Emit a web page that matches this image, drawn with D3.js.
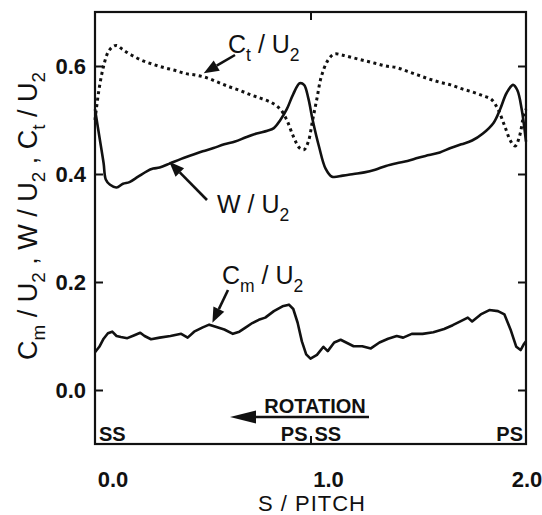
<!DOCTYPE html>
<html>
<head>
<meta charset="utf-8">
<script src="https://cdn.jsdelivr.net/npm/d3@7"></script>
<style>
  body { margin: 0; background: #fff; }
  text { font-family: "Liberation Sans", Arial, sans-serif; fill: #111; }
</style>
</head>
<body>
<div class="canvas"></div>
<script>
// S / PITCH positions and values
const wData = [
  [0.00, 0.52], [0.02, 0.47], [0.04, 0.42], [0.05, 0.39], [0.07, 0.38], [0.10, 0.375],
  [0.13, 0.382], [0.16, 0.385], [0.20, 0.395], [0.24, 0.405], [0.27, 0.41], [0.30, 0.412],
  [0.35, 0.42], [0.40, 0.428], [0.45, 0.435], [0.50, 0.442], [0.55, 0.448], [0.60, 0.455],
  [0.65, 0.46], [0.70, 0.468], [0.75, 0.475], [0.80, 0.48], [0.83, 0.485], [0.86, 0.50],
  [0.89, 0.52], [0.92, 0.548], [0.95, 0.568], [0.97, 0.565], [0.99, 0.54], [1.01, 0.50],
  [1.04, 0.45], [1.07, 0.41], [1.10, 0.395], [1.15, 0.397], [1.20, 0.40], [1.25, 0.403],
  [1.30, 0.408], [1.35, 0.415], [1.40, 0.42], [1.45, 0.424], [1.50, 0.43], [1.55, 0.435],
  [1.60, 0.44], [1.65, 0.448], [1.70, 0.455], [1.75, 0.462], [1.80, 0.475], [1.85, 0.495],
  [1.88, 0.52], [1.91, 0.55], [1.94, 0.565], [1.96, 0.555], [1.98, 0.52], [2.00, 0.46]
];

const ctData = [
  [0.00, 0.50], [0.02, 0.56], [0.04, 0.60], [0.06, 0.625], [0.08, 0.635], [0.10, 0.638],
  [0.13, 0.63], [0.17, 0.62], [0.22, 0.61], [0.27, 0.603], [0.32, 0.597], [0.37, 0.592],
  [0.42, 0.586], [0.47, 0.583], [0.52, 0.578], [0.57, 0.57], [0.62, 0.562], [0.67, 0.555],
  [0.72, 0.547], [0.77, 0.54], [0.82, 0.532], [0.86, 0.52], [0.89, 0.50], [0.92, 0.47],
  [0.95, 0.448], [0.97, 0.445], [0.99, 0.46], [1.01, 0.50], [1.03, 0.54], [1.05, 0.58],
  [1.08, 0.61], [1.11, 0.622], [1.15, 0.62], [1.20, 0.615], [1.25, 0.61], [1.30, 0.605],
  [1.35, 0.60], [1.40, 0.597], [1.45, 0.59], [1.50, 0.583], [1.55, 0.576], [1.60, 0.57],
  [1.65, 0.565], [1.70, 0.558], [1.75, 0.552], [1.80, 0.545], [1.84, 0.538], [1.87, 0.52],
  [1.90, 0.49], [1.93, 0.46], [1.95, 0.452], [1.97, 0.47], [1.99, 0.51], [2.00, 0.52]
];

const cmData = [
  [0.00, 0.07], [0.02, 0.08], [0.04, 0.095], [0.06, 0.105], [0.08, 0.108], [0.10, 0.10],
  [0.12, 0.098], [0.15, 0.096], [0.18, 0.101], [0.21, 0.106], [0.23, 0.10], [0.26, 0.094],
  [0.30, 0.097], [0.35, 0.10], [0.40, 0.104], [0.43, 0.097], [0.46, 0.108], [0.50, 0.116],
  [0.53, 0.121], [0.56, 0.117], [0.60, 0.112], [0.64, 0.104], [0.67, 0.108], [0.70, 0.116],
  [0.73, 0.124], [0.76, 0.13], [0.79, 0.134], [0.83, 0.146], [0.87, 0.155], [0.90, 0.158],
  [0.92, 0.150], [0.94, 0.125], [0.96, 0.09], [0.98, 0.066], [1.00, 0.058], [1.03, 0.065],
  [1.06, 0.08], [1.08, 0.072], [1.11, 0.088], [1.14, 0.093], [1.17, 0.087], [1.20, 0.081],
  [1.24, 0.081], [1.28, 0.077], [1.32, 0.088], [1.36, 0.095], [1.40, 0.1], [1.43, 0.097],
  [1.47, 0.104], [1.52, 0.104], [1.57, 0.107], [1.62, 0.113], [1.66, 0.12], [1.70, 0.128],
  [1.73, 0.134], [1.75, 0.127], [1.79, 0.14], [1.83, 0.148], [1.87, 0.146], [1.90, 0.14],
  [1.93, 0.11], [1.955, 0.08], [1.975, 0.074], [1.99, 0.085], [2.00, 0.09]
];

const yTicks = [0.0, 0.2, 0.4, 0.6];
const xTicks = [0.0, 1.0, 2.0];
const sideLabels = [[0.0, "SS", "start"], [1.0, "PS", "end"], [1.0, "SS", "start"], [2.0, "PS", "end"]];

const width = 542, height = 515;
const frame = { left: 95, right: 526, top: 12, bottom: 444 };

const svg = d3.select('.canvas')
    .append('svg')
    .attr('width', width)
    .attr('height', height);

const x = d3.scaleLinear().domain([0, 2]).range([frame.left, frame.right]);
const y = d3.scaleLinear().domain([-0.1, 0.7]).range([frame.bottom, frame.top]);

const line = d3.line()
    .x(d => x(d[0]))
    .y(d => y(d[1]))
    .curve(d3.curveCatmullRom.alpha(0.5));

// curves
svg.append('path')
    .attr('d', line(ctData))
    .attr('fill', 'none')
    .attr('stroke', '#111')
    .attr('stroke-width', 3)
    .attr('stroke-dasharray', '3,3.5');

svg.append('path')
    .attr('d', line(wData))
    .attr('fill', 'none')
    .attr('stroke', '#111')
    .attr('stroke-width', 2.6);

svg.append('path')
    .attr('d', d3.line().x(d => x(d[0])).y(d => y(d[1]))(cmData))
    .attr('fill', 'none')
    .attr('stroke', '#111')
    .attr('stroke-width', 2.6)
    .attr('stroke-linejoin', 'round');

// frame
svg.append('rect')
    .attr('x', frame.left).attr('y', frame.top)
    .attr('width', frame.right - frame.left)
    .attr('height', frame.bottom - frame.top)
    .attr('fill', 'none')
    .attr('stroke', '#111')
    .attr('stroke-width', 2.2);

// axes, ticks pointing inward
const tickLen = 8;
svg.append('g')
    .attr('transform', `translate(${frame.left},0)`)
    .call(d3.axisRight(y).tickValues(yTicks).tickSize(tickLen).tickFormat(''))
    .call(g => g.select('.domain').remove());
svg.append('g')
    .attr('transform', `translate(${frame.right},0)`)
    .call(d3.axisLeft(y).tickValues(yTicks).tickSize(tickLen).tickFormat(''))
    .call(g => g.select('.domain').remove());
svg.append('g')
    .attr('transform', `translate(0,${frame.top})`)
    .call(d3.axisBottom(x).tickValues([1.0]).tickSize(tickLen).tickFormat(''))
    .call(g => g.select('.domain').remove());
svg.append('g')
    .attr('transform', `translate(0,${frame.bottom})`)
    .call(d3.axisTop(x).tickValues([1.0]).tickSize(tickLen).tickFormat(''))
    .call(g => g.select('.domain').remove());
svg.selectAll('.tick line').attr('stroke', '#111').attr('stroke-width', 2);

// tick labels
svg.selectAll('.ylab')
    .data(yTicks)
  .enter().append('text')
    .attr('x', frame.left - 9)
    .attr('y', d => y(d) + 8)
    .attr('text-anchor', 'end')
    .attr('font-size', 22)
    .attr('font-weight', 'bold')
    .text(d => d.toFixed(1));

svg.selectAll('.xlab')
    .data(xTicks)
  .enter().append('text')
    .attr('x', d => Math.min(x(d) + 18, width - 15))
    .attr('y', 487)
    .attr('text-anchor', 'middle')
    .attr('font-size', 22)
    .attr('font-weight', 'bold')
    .text(d => d.toFixed(1));

// axis titles
svg.append('text')
    .attr('x', 312).attr('y', 511)
    .attr('text-anchor', 'middle')
    .attr('font-size', 22)
    .attr('letter-spacing', 1)
    .text('S / PITCH');

// text with subscripts: parts = [[text, isSub], ...]
const subText = (sel, parts, size) => {
    parts.forEach(([t, sub], i) => {
        const prevSub = i > 0 && parts[i - 1][1];
        const ts = sel.append('tspan').text(t);
        if (sub) ts.attr('font-size', size * 0.7).attr('dy', size * 0.3);
        else if (prevSub) ts.attr('dy', -size * 0.3);
    });
    return sel;
};

const yTitle = svg.append('text')
    .attr('transform', 'translate(37,216) rotate(-90)')
    .attr('text-anchor', 'middle')
    .attr('font-size', 27);
subText(yTitle, [['C', 0], ['m', 1], [' / U', 0], ['2', 1], [' ,  W / U', 0], ['2', 1], [' ,  C', 0], ['t', 1], [' / U', 0], ['2', 1]], 27);

// series labels with arrows
const annotations = [
    { parts: [['C', 0], ['t', 1], [' / U', 0], ['2', 1]], tx: 228, ty: 53, at: [0.50, 0.583], from: [235, 55] },
    { parts: [['W / U', 0], ['2', 1]], tx: 217, ty: 213, at: [0.34, 0.419], from: [207, 200] },
    { parts: [['C', 0], ['m', 1], [' / U', 0], ['2', 1]], tx: 222, ty: 284, at: [0.54, 0.121], from: [228, 290] }
];

const arrow = (x1, y1, x2, y2, head, half) => {
    const ang = Math.atan2(y2 - y1, x2 - x1);
    const bx = x2 - head * Math.cos(ang), by = y2 - head * Math.sin(ang);
    const px = -Math.sin(ang) * half, py = Math.cos(ang) * half;
    svg.append('line')
        .attr('x1', x1).attr('y1', y1).attr('x2', bx).attr('y2', by)
        .attr('stroke', '#111').attr('stroke-width', 2.6);
    svg.append('path')
        .attr('d', `M${x2},${y2}L${bx + px},${by + py}L${bx - px},${by - py}Z`)
        .attr('fill', '#111');
};

annotations.forEach(a => {
    const t = svg.append('text')
        .attr('x', a.tx).attr('y', a.ty)
        .attr('font-size', 25);
    subText(t, a.parts, 25);
    arrow(a.from[0], a.from[1], x(a.at[0]) + 1, y(a.at[1]) - 2, 15, 6);
});

// rotation label
svg.append('text')
    .attr('x', 315).attr('y', 413)
    .attr('text-anchor', 'middle')
    .attr('font-size', 20)
    .attr('font-weight', 'bold')
    .text('ROTATION');
arrow(369, 417, 230, 417, 26, 6.5);

// SS / PS markers
svg.selectAll('.side')
    .data(sideLabels)
  .enter().append('text')
    .attr('x', d => x(d[0]) + (d[2] === 'start' ? 4 : -3))
    .attr('y', 441)
    .attr('text-anchor', d => d[2])
    .attr('font-size', 20)
    .attr('font-weight', 'bold')
    .text(d => d[1]);
</script>
</body>
</html>
